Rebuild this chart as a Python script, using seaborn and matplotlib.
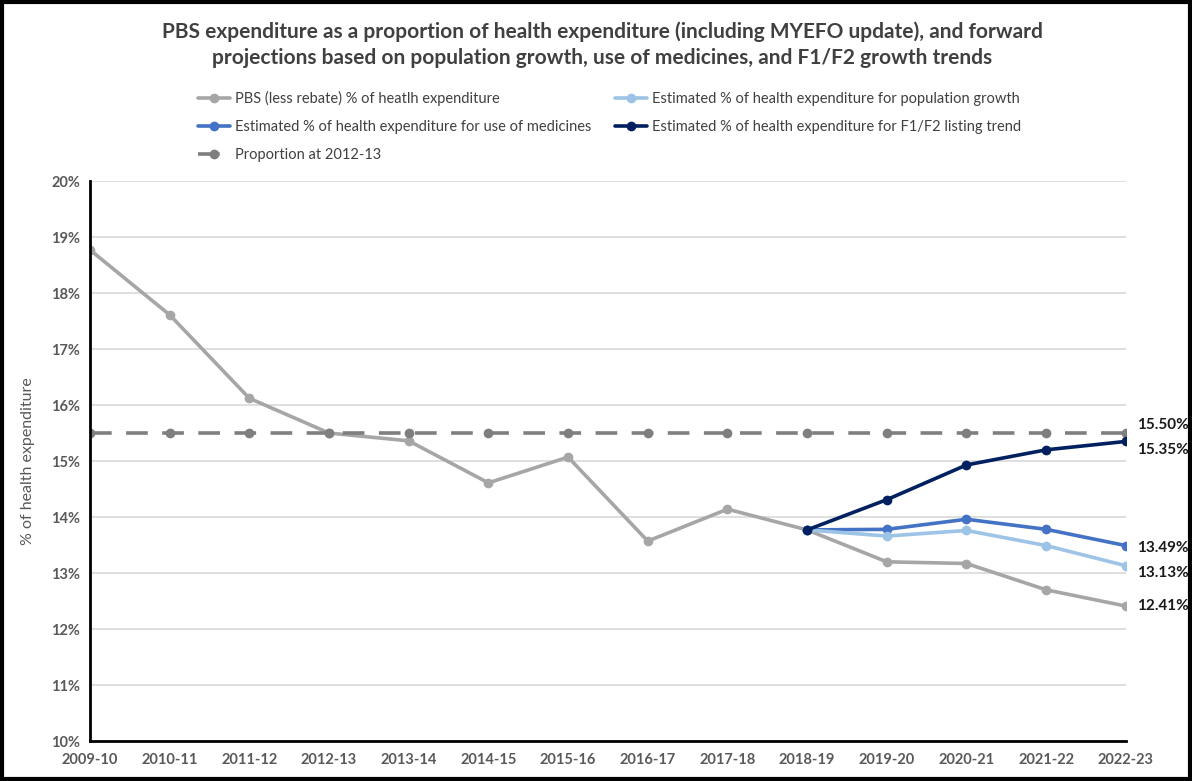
import matplotlib
matplotlib.use("Agg")
import matplotlib.pyplot as plt
from matplotlib.patches import Rectangle
from matplotlib.ticker import FuncFormatter
import seaborn as sns
import pandas as pd

years = ["2009-10", "2010-11", "2011-12", "2012-13", "2013-14", "2014-15", "2015-16",
         "2016-17", "2017-18", "2018-19", "2019-20", "2020-21", "2021-22", "2022-23"]
pbs = [18.77, 17.61, 16.12, 15.50, 15.36, 14.61, 15.07, 13.57, 14.14, 13.77, 13.20, 13.17, 12.70, 12.41]
proportion = [15.50] * 14

proj_years = ["2018-19", "2019-20", "2020-21", "2021-22", "2022-23"]
pop_growth = [13.77, 13.66, 13.76, 13.49, 13.13]
use_meds = [13.77, 13.78, 13.96, 13.78, 13.49]
f1f2 = [13.77, 14.31, 14.93, 15.20, 15.35]

labels = ["PBS (less rebate) % of heatlh expenditure",
          "Estimated % of health expenditure for use of medicines",
          "Proportion at 2012-13",
          "Estimated % of health expenditure for population growth",
          "Estimated % of health expenditure for F1/F2 listing trend"]

sns.set_style("white")
plt.rcParams["font.family"] = ["Lato", "DejaVu Sans"]

fig = plt.figure(figsize=(11.92, 7.81), dpi=100)
ax = fig.add_axes([0.0755, 0.0512, 0.869, 0.717])

df = pd.DataFrame({"year": years, "pbs": pbs, "prop": proportion})
proj = pd.DataFrame({"year": proj_years, "pop": pop_growth, "meds": use_meds, "f1f2": f1f2})

style = dict(lw=2.6, marker="o", markersize=7, markeredgewidth=0, sort=False, legend=False)
sns.lineplot(data=df, x="year", y="pbs", ax=ax, color="#A6A6A6", zorder=2, **style)
sns.lineplot(data=proj, x="year", y="meds", ax=ax, color="#4472C4", zorder=3, **style)
sns.lineplot(data=df, x="year", y="prop", ax=ax, color="#7F7F7F", zorder=2, **style)
ax.lines[-1].set_dashes([6, 4])
sns.lineplot(data=proj, x="year", y="pop", ax=ax, color="#9DC3E6", zorder=3, **style)
sns.lineplot(data=proj, x="year", y="f1f2", ax=ax, color="#002060", zorder=3, **style)

ax.set_xlim(0, len(years) - 1)
ax.set_ylim(10, 20)
ax.set_yticks(range(10, 21))
ax.yaxis.set_major_formatter(FuncFormatter(lambda v, p: f"{v:.0f}%"))
ax.grid(axis="y", color="#D9D9D9", lw=1.2)
ax.set_axisbelow(True)
for s in ["top", "right"]:
    ax.spines[s].set_visible(False)
for s in ["left", "bottom"]:
    ax.spines[s].set_color("black")
    ax.spines[s].set_linewidth(2)
ax.tick_params(axis="both", colors="black", labelcolor="#595959", labelsize=10.5,
               length=5, width=2, direction="out")
ax.tick_params(axis="y", direction="inout", length=7)
for t in ax.get_xticklabels() + ax.get_yticklabels():
    t.set_fontweight("bold")
ax.set_xlabel("")
ax.set_ylabel("% of health expenditure", fontsize=11.5, color="#595959", labelpad=12)

# end labels
ends = [(proportion[-1], 6), (f1f2[-1], -6), (use_meds[-1], -2), (pop_growth[-1], -5), (pbs[-1], 0)]
for val, dy in ends:
    ax.annotate(f"{val:.2f}%", (len(years) - 1, val), xytext=(8, dy), textcoords="offset points",
                va="center", ha="left", fontsize=11, fontweight="bold", color="#1a1a1a",
                annotation_clip=False)

fig.text(0.505, 0.943, "PBS expenditure as a proportion of health expenditure (including MYEFO update), and forward\n"
         "projections based on population growth, use of medicines, and F1/F2 growth trends",
         ha="center", va="center", fontsize=15, fontweight="bold", color="#404040", linespacing=1.4)

fig.legend(ax.lines[:5], labels, ncol=2, loc="upper left", bbox_to_anchor=(0.155, 0.9),
           frameon=False, fontsize=10.5, labelcolor="#404040", handlelength=2.2,
           columnspacing=1.6, labelspacing=0.95, handletextpad=0.35)

fig.patches.append(Rectangle((0.002, 0.003), 0.996, 0.994, transform=fig.transFigure,
                             fill=False, edgecolor="black", lw=3))

fig.savefig("out.png", dpi=100)
